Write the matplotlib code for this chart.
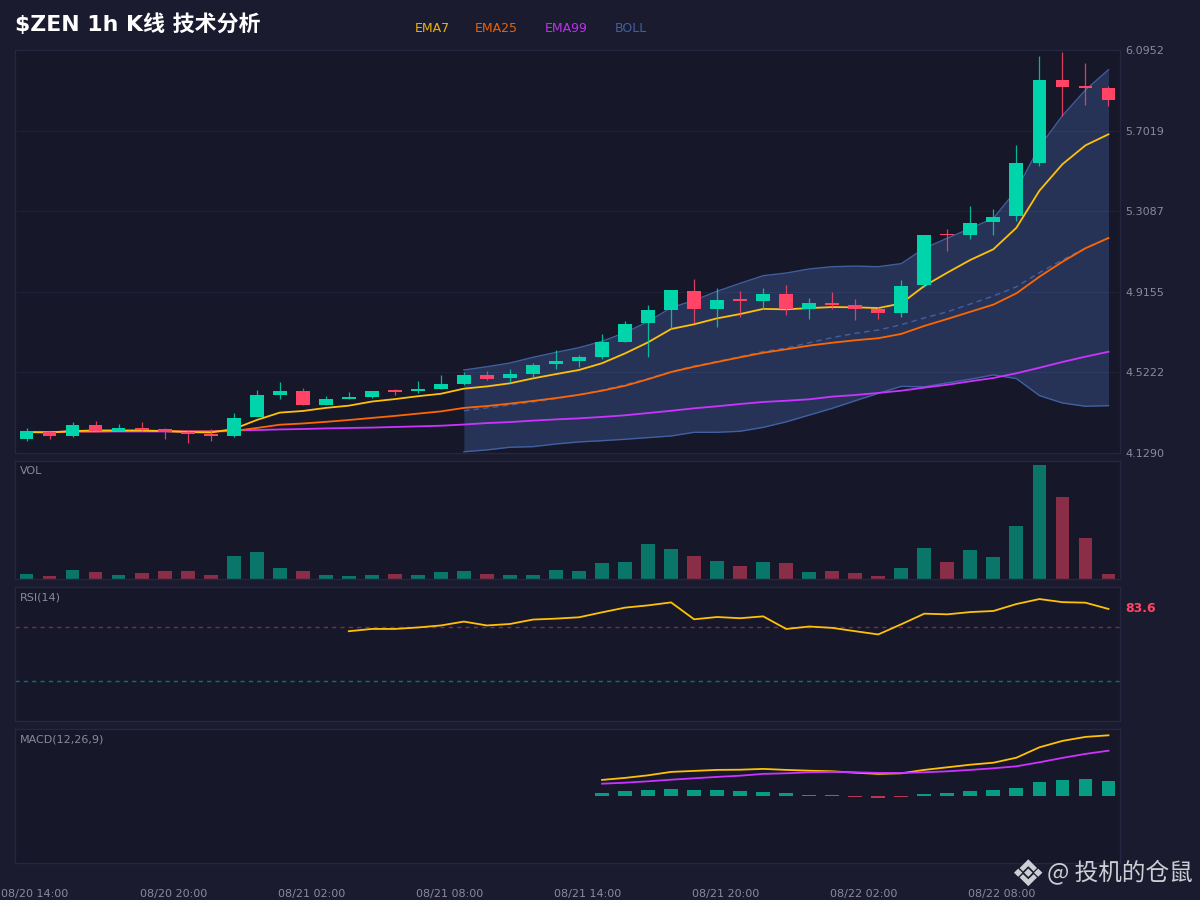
import matplotlib
matplotlib.use("Agg")
import matplotlib.pyplot as plt
from matplotlib.patches import Polygon
import numpy as np

BG = "#1a1b2e"
PANEL = "#161729"
BORDER = "#252640"
GRID = "#212238"
GREEN = "#00d4aa"
RED = "#ff4466"
YELLOW = "#ffc107"
ORANGE = "#ff6600"
PURPLE = "#cc33ff"
BLUE = "#4466aa"
TXT = "#8a8a9c"

opens = [4.196,4.230,4.212,4.266,4.238,4.250,4.248,4.231,4.222,4.210,4.303,4.413,4.431,4.365,4.394,4.402,
         4.431,4.430,4.443,4.466,4.508,4.493,4.516,4.562,4.579,4.596,4.671,4.762,4.827,4.921,4.832,4.877,
         4.869,4.903,4.830,4.862,4.851,4.832,4.814,4.947,5.194,5.194,5.255,5.285,5.545,5.950,5.915,5.908]
closes = [4.235,4.212,4.267,4.238,4.251,4.240,4.231,4.220,4.212,4.301,4.411,4.430,4.365,4.392,4.402,4.431,
          4.428,4.443,4.464,4.508,4.492,4.513,4.560,4.578,4.596,4.671,4.760,4.827,4.923,4.832,4.875,4.871,
          4.903,4.830,4.859,4.853,4.833,4.812,4.945,5.194,5.191,5.250,5.280,5.542,5.949,5.916,5.911,5.853]
highs = [4.250,4.236,4.279,4.285,4.272,4.280,4.251,4.241,4.246,4.324,4.436,4.477,4.446,4.407,4.427,4.431,
         4.443,4.479,4.510,4.524,4.528,4.537,4.567,4.632,4.609,4.710,4.773,4.850,4.923,4.976,4.934,4.919,
         4.936,4.947,4.885,4.914,4.879,4.843,4.975,5.194,5.222,5.334,5.319,5.632,6.066,6.084,6.033,5.918]
lows = [4.189,4.197,4.207,4.236,4.236,4.236,4.197,4.178,4.189,4.207,4.303,4.392,4.365,4.362,4.394,4.397,
        4.412,4.423,4.443,4.459,4.487,4.469,4.501,4.537,4.549,4.586,4.671,4.596,4.734,4.762,4.745,4.794,
        4.832,4.802,4.784,4.833,4.779,4.784,4.794,4.937,5.113,5.172,5.193,5.259,5.531,5.773,5.825,5.822]
ema7 = [4.231,4.229,4.236,4.239,4.239,4.239,4.236,4.231,4.229,4.246,4.290,4.326,4.334,4.349,4.360,4.380,
        4.392,4.406,4.418,4.443,4.454,4.469,4.493,4.514,4.534,4.567,4.615,4.669,4.734,4.757,4.786,4.807,
        4.832,4.830,4.836,4.841,4.840,4.836,4.859,4.944,5.009,5.071,5.123,5.228,5.409,5.538,5.630,5.684]
ema25 = [4.231,4.231,4.234,4.234,4.236,4.236,4.236,4.234,4.234,4.236,4.251,4.267,4.273,4.281,4.290,4.300,
         4.310,4.321,4.332,4.349,4.358,4.370,4.383,4.397,4.413,4.433,4.457,4.489,4.524,4.550,4.573,4.596,
         4.618,4.635,4.653,4.667,4.679,4.689,4.710,4.749,4.783,4.818,4.853,4.908,4.989,5.062,5.128,5.178]
ema99 = [4.231,4.231,4.234,4.234,4.234,4.234,4.234,4.234,4.234,4.239,4.241,4.244,4.246,4.249,4.251,4.253,
         4.256,4.259,4.262,4.268,4.275,4.280,4.287,4.293,4.298,4.305,4.313,4.324,4.335,4.347,4.357,4.368,
         4.378,4.384,4.391,4.404,4.412,4.422,4.433,4.448,4.462,4.479,4.495,4.518,4.545,4.573,4.599,4.623]
boll_start = 19
boll_up = [4.534,4.550,4.568,4.596,4.620,4.643,4.674,4.716,4.770,4.838,4.874,4.918,4.957,4.994,5.007,5.027,
           5.038,5.041,5.038,5.053,5.128,5.177,5.225,5.274,5.412,5.623,5.775,5.900,5.999]
boll_mid = [4.335,4.349,4.363,4.378,4.394,4.413,4.436,4.462,4.492,4.526,4.553,4.576,4.599,4.624,4.641,4.667,
            4.692,4.713,4.729,4.755,4.788,4.818,4.856,4.895,4.940,5.009,5.071,5.128,5.178]
boll_low = [4.135,4.144,4.157,4.160,4.173,4.183,4.189,4.196,4.204,4.212,4.230,4.230,4.235,4.254,4.281,4.314,
            4.347,4.384,4.420,4.454,4.452,4.471,4.489,4.510,4.492,4.409,4.373,4.357,4.360]
volumes = [4.7,2.7,8.7,7.3,3.7,5.7,8.0,7.7,4.3,22.7,26.7,11.0,7.7,3.7,2.7,4.3,4.7,4.3,6.7,8.0,4.7,4.3,4.3,9.3,
           7.7,16,17,35,30,23,18,13,17.5,16,7.5,8.5,6,3,11.5,31,17,29.5,22.5,53,114,82,41,5]
rsi_start = 14
rsi = [67.0,68.7,68.7,69.8,71.3,74.2,71.3,72.4,75.7,76.4,77.4,81.1,84.6,86.3,88.5,75.9,77.6,76.7,78.1,68.7,
       70.5,69.5,67.0,64.6,72.2,80.1,79.6,81.3,82.1,87.3,91.0,88.7,88.3,83.6]
macd_start = 25
macd = [.082,.092,.105,.122,.127,.132,.133,.137,.132,.128,.125,.118,.112,.115,.132,.145,.158,.168,.193,.245,.277,.297,.305]
signal = [.063,.068,.075,.083,.090,.097,.103,.112,.115,.120,.122,.120,.117,.117,.120,.125,.132,.140,.150,.170,.192,.212,.228]
hist = [.017,.025,.030,.035,.032,.030,.027,.022,.015,.008,.005,-.003,-.007,-.005,.010,.018,.027,.030,.043,.073,.083,.085,.075]
price_ticks = [4.1290,4.5222,4.9155,5.3087,5.7019,6.0952]
x_tick_idx = [0,6,12,18,24,30,36,42]
x_tick_labels = ["08/20 14:00","08/20 20:00","08/21 02:00","08/21 08:00","08/21 14:00","08/21 20:00","08/22 02:00","08/22 08:00"]

n = len(closes)
x = np.arange(n)
W = 0.6
colors = [GREEN if c >= o else RED for o, c in zip(opens, closes)]

plt.rcParams["font.family"] = ["DejaVu Sans", "Noto Sans CJK SC"]
fig = plt.figure(figsize=(12, 9), dpi=100, facecolor=BG)

def panel(top, bottom):
    ax = fig.add_axes([15/1200, 1-bottom/900, 1105/1200, (bottom-top)/900], facecolor=PANEL)
    for s in ax.spines.values():
        s.set_color(BORDER)
        s.set_linewidth(1)
    ax.set_xlim(-0.5, n-0.5)
    ax.set_xticks([])
    ax.set_yticks([])
    return ax

# Main candle panel
ax = panel(50, 453)
ax.set_ylim(price_ticks[0], price_ticks[-1])
ax.yaxis.tick_right()
ax.set_yticks(price_ticks)
ax.set_yticklabels([f"{v:.4f}" for v in price_ticks], fontsize=8, color=TXT)
ax.tick_params(axis="y", length=0, pad=3.6)
ax.grid(axis="y", color=GRID, lw=0.8)
ax.set_axisbelow(True)
bx = x[boll_start:]
ax.fill_between(bx, boll_low, boll_up, color=BLUE, alpha=0.36, lw=0, zorder=1)
ax.plot(bx, boll_up, color=BLUE, lw=1, alpha=0.9, zorder=2)
ax.plot(bx, boll_low, color=BLUE, lw=1, alpha=0.9, zorder=2)
ax.plot(bx, boll_mid, color=BLUE, lw=1, ls=(0, (4, 3)), alpha=0.9, zorder=2)
ax.plot(x, ema99, color=PURPLE, lw=1.3, zorder=3)
ax.plot(x, ema25, color=ORANGE, lw=1.3, zorder=3)
ax.plot(x, ema7, color=YELLOW, lw=1.3, zorder=3)
ax.vlines(x, lows, highs, colors=colors, lw=0.9, alpha=0.85, zorder=4)
bodies = [max(abs(c-o), 0.007) for o, c in zip(opens, closes)]
ax.bar(x, bodies, W, bottom=[min(o, c) for o, c in zip(opens, closes)], color=colors, lw=0, zorder=5)

# Volume panel
axv = panel(461, 579)
axv.set_ylim(0, 118)
axv.bar(x, volumes, W, color=colors, alpha=0.5, lw=0)

# RSI panel
axr = panel(587, 721)
axr.set_ylim(0, 100)
axr.axhline(70, color=RED, lw=1, ls=(0, (3, 3)), alpha=0.45)
axr.axhline(30, color=GREEN, lw=1, ls=(0, (3, 3)), alpha=0.5)
axr.plot(x[rsi_start:], rsi, color=YELLOW, lw=1.3)
axr.text(1.0045, rsi[-1], f"{rsi[-1]:.1f}", transform=axr.get_yaxis_transform(), color=RED,
         fontsize=9, fontweight="bold", va="center", ha="left")

# MACD panel
axm = panel(729, 863)
axm.set_ylim(-0.3335, 0.3365)
mx = x[macd_start:]
axm.bar(mx, hist, W, color=[GREEN if h >= 0 else RED for h in hist], alpha=0.7, lw=0)
axm.plot(mx, macd, color=YELLOW, lw=1.3)
axm.plot(mx, signal, color=PURPLE, lw=1.3)
axm.set_xticks([i + 0.37 for i in x_tick_idx])
axm.set_xticklabels(x_tick_labels, fontsize=8, color=TXT)
axm.tick_params(axis="x", length=0, pad=18.5)

def fx(px):
    return px/1200
def fy(py):
    return 1-py/900

fig.text(fx(15), fy(24.5), "$ZEN 1h K线 技术分析", color="white", fontsize=15.8, fontweight="bold", va="center", ha="left")
for xp, label, col in [(415, "EMA7", YELLOW), (475, "EMA25", ORANGE), (545, "EMA99", PURPLE), (615, "BOLL", BLUE)]:
    fig.text(fx(xp), fy(28), label, color=col, fontsize=9, va="center", ha="left", alpha=0.92)
for yp, label in [(471.5, "VOL"), (597.5, "RSI(14)"), (739.5, "MACD(12,26,9)")]:
    fig.text(fx(20), fy(yp), label, color=TXT, fontsize=8, va="center", ha="left")

# Watermark
WM = "#d8d8de"
logo = [
    [(1028.3,859.3),(1037,868),(1033.6,871.4),(1028.3,866.2),(1023,871.4),(1019.6,868)],
    [(1028.3,886.2),(1037,877.5),(1033.6,874.1),(1028.3,879.3),(1023,874.1),(1019.6,877.5)],
    [(1014,872.7),(1018.2,868.6),(1022.4,872.7),(1018.2,876.8)],
    [(1034,872.7),(1038.2,868.6),(1042.4,872.7),(1038.2,876.8)],
    [(1028.3,868.5),(1032.5,872.7),(1028.3,876.9),(1024.1,872.7)],
]
for pts in logo:
    fig.add_artist(Polygon([(fx(a), fy(b)) for a, b in pts], closed=True, transform=fig.transFigure,
                           facecolor=WM, edgecolor="none", alpha=0.95))
fig.text(fx(1047), fy(873), "@ 投机的仓鼠", color=WM, fontsize=17, va="center", ha="left", alpha=0.95,
         family=["Noto Sans CJK SC", "DejaVu Sans"])

fig.savefig("out.png", dpi=100, facecolor=BG)
